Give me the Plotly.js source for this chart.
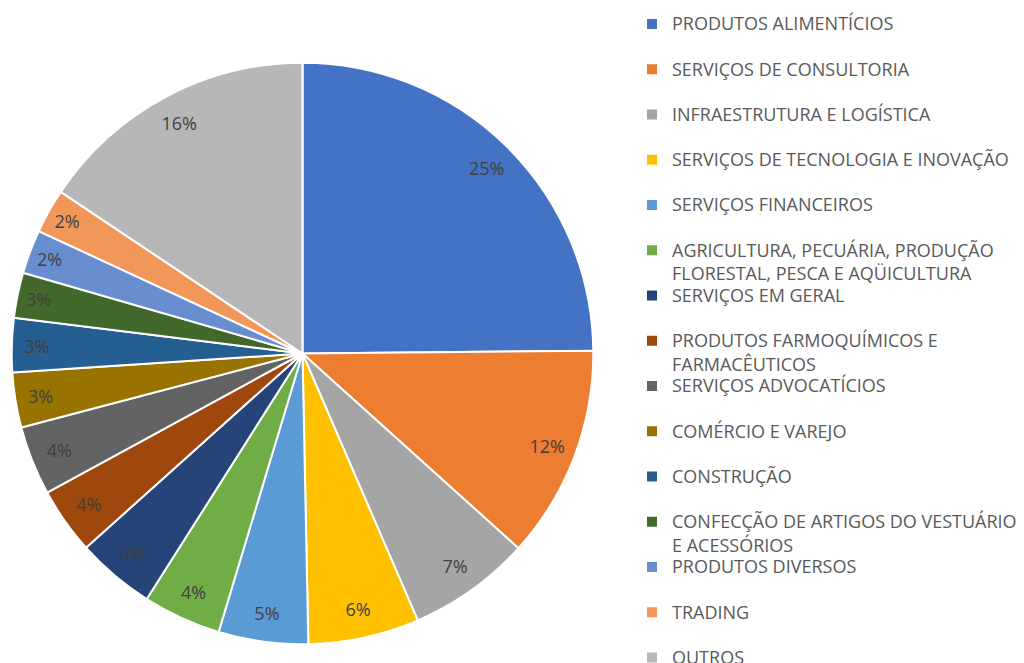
<!DOCTYPE html>
<html>
<head>
<meta charset="utf-8">
<script src="https://cdn.plot.ly/plotly-3.0.1.min.js"></script>
<style>
html,body{margin:0;padding:0;background:#fff;}
#chart{width:1024px;height:663px;}
/* legend glyphs a bit larger than the line-spacing size */
.legendtext{font-size:18px !important;}
</style>
</head>
<body>
<div id="chart"></div>
<script>
// Categories (line breaks as in the original legend)
const categories = [
  "PRODUTOS ALIMENTÍCIOS",
  "SERVIÇOS DE CONSULTORIA",
  "INFRAESTRUTURA E LOGÍSTICA",
  "SERVIÇOS DE TECNOLOGIA E INOVAÇÃO",
  "SERVIÇOS FINANCEIROS",
  "AGRICULTURA, PECUÁRIA, PRODUÇÃO<br>FLORESTAL, PESCA E AQÜICULTURA",
  "SERVIÇOS EM GERAL",
  "PRODUTOS FARMOQUÍMICOS E<br>FARMACÊUTICOS",
  "SERVIÇOS ADVOCATÍCIOS",
  "COMÉRCIO E VAREJO",
  "CONSTRUÇÃO",
  "CONFECÇÃO DE ARTIGOS DO VESTUÁRIO<br>E ACESSÓRIOS",
  "PRODUTOS DIVERSOS",
  "TRADING",
  "OUTROS"
];
// Shares (%)
const shares = [24.86, 11.83, 6.84, 6.17, 4.98, 4.34, 4.37, 3.70, 3.84, 3.06, 3.00, 2.52, 2.44, 2.46, 15.63];
const colors = [
  "#4472C4", "#ED7D31", "#A5A5A5", "#FFC000", "#5B9BD5", "#70AD47", "#264478",
  "#9E480E", "#636363", "#997300", "#255E91", "#43682B", "#698ED0", "#F1975A", "#B7B7B7"
];

// every legend entry takes two lines, as in the original
const legendLabels = categories.map(c => c.indexOf("<br>") >= 0 ? c : c + "<br> ");

const domain = {x: [11.7/1024, 593.3/1024], y: [1 - 644.3/663, 1 - 62.7/663]};

const pieTrace = {
  type: "pie",
  labels: legendLabels,
  values: shares,
  sort: false,
  direction: "clockwise",
  rotation: 0,
  domain: domain,
  marker: {colors: colors, line: {color: "#ffffff", width: 2}},
  textinfo: "none",
  hoverinfo: "label+percent",
  showlegend: true
};

const labelTrace = {
  type: "pie",
  labels: legendLabels,
  values: shares,
  sort: false,
  direction: "clockwise",
  rotation: 0,
  domain: domain,
  hole: 0.8,
  marker: {colors: colors.map(() => "rgba(0,0,0,0)"), line: {width: 0}},
  texttemplate: "%{percent:.0%}",
  textposition: "inside",
  insidetextorientation: "horizontal",
  textfont: {family: "Open Sans, sans-serif", size: 18, color: "#404040"},
  hoverinfo: "skip",
  showlegend: false
};

const layout = {
  width: 1024,
  height: 663,
  margin: {l: 0, r: 0, t: 0, b: 0},
  paper_bgcolor: "#ffffff",
  showlegend: true,
  legend: {
    x: 632/1024, xanchor: "left",
    y: 1, yanchor: "top",
    valign: "top",
    title: {text: "&nbsp;", font: {size: 5.4, color: "rgba(0,0,0,0)"}},
    font: {family: "Open Sans, sans-serif", size: 16.25, color: "#595959"},
    bgcolor: "rgba(0,0,0,0)",
    borderwidth: 0
  }
};

Plotly.newPlot("chart", [pieTrace, labelTrace], layout, {displayModeBar: false, staticPlot: true});
</script>
</body>
</html>
